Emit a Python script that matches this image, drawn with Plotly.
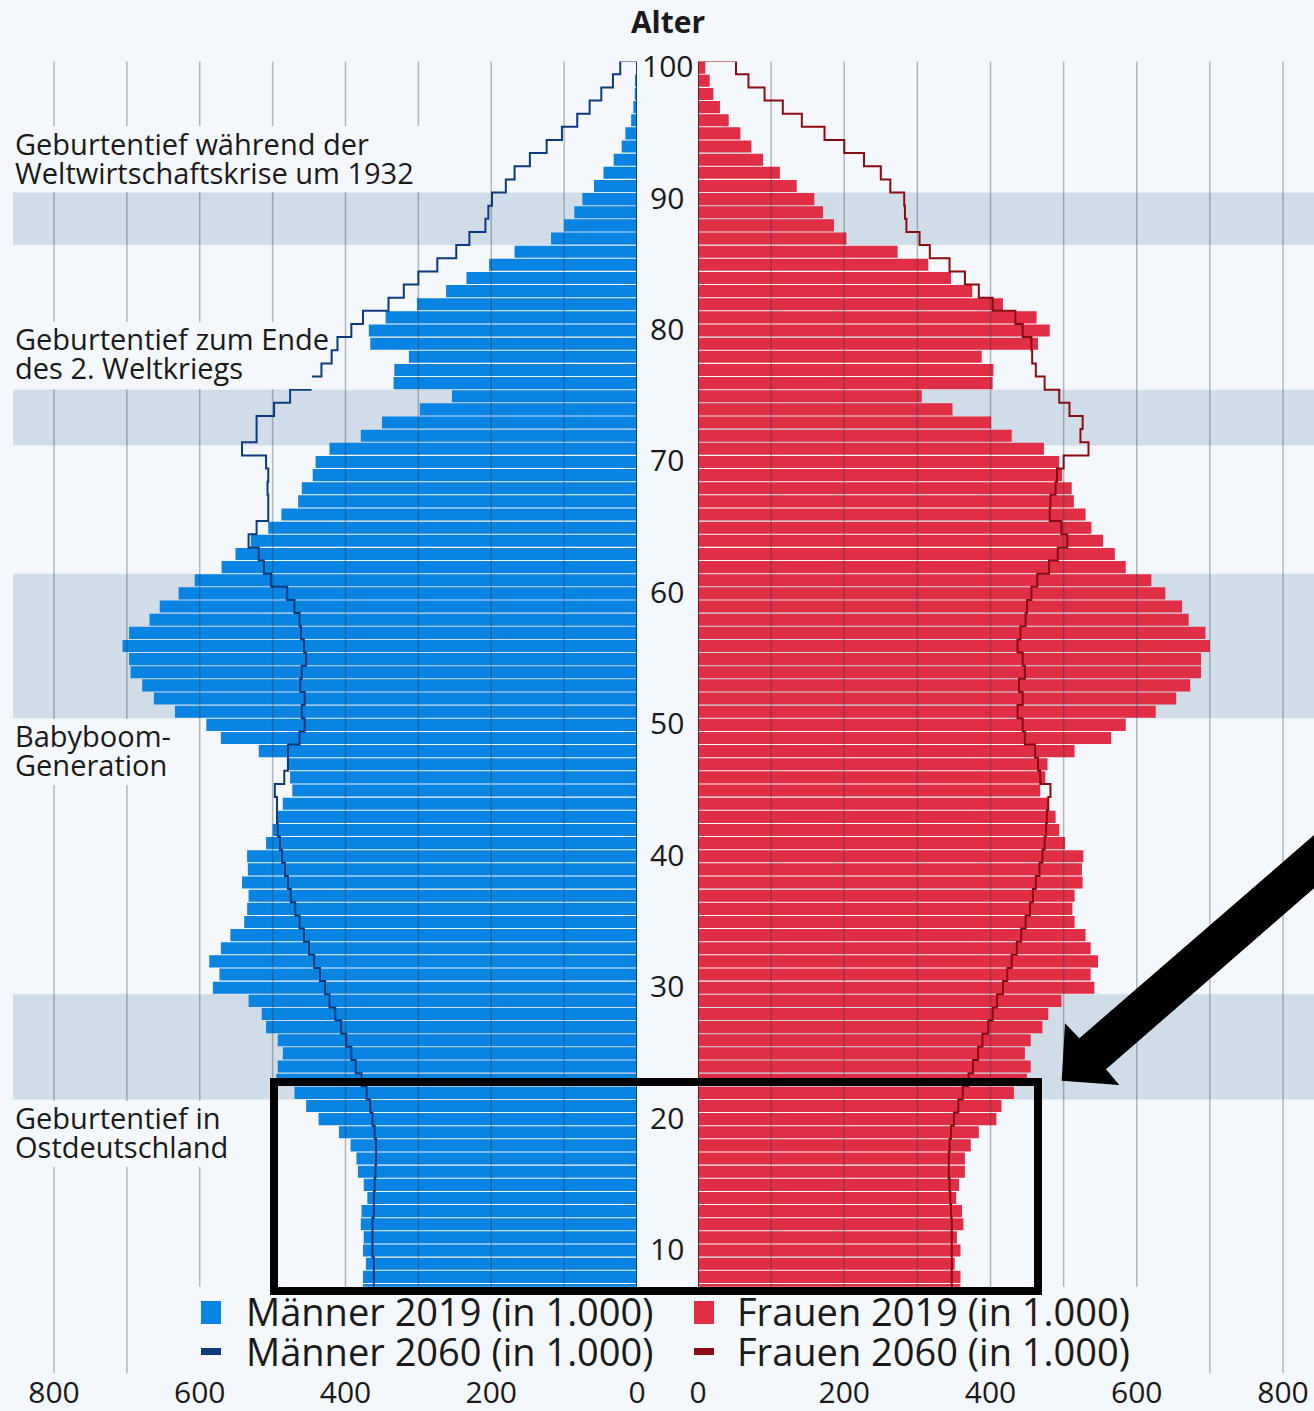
import plotly.graph_objects as go

# ---------------- data (in 1.000) ----------------
ages = list(range(7, 101))

men_2019 = [376, 376, 372, 376, 375, 379, 378, 370, 375, 383,   # 7-16
            385, 393, 409, 437, 454, 470, 495, 493, 486, 493,   # 17-26
            509, 515, 533, 582, 573, 587, 571, 558, 539, 535,   # 27-36
            533, 542, 534, 535, 509, 500, 493, 486, 473, 476,   # 37-46
            479, 519, 571, 591, 634, 663, 679, 695, 697, 706,   # 47-56
            697, 669, 655, 629, 607, 570, 551, 530, 506, 488,   # 57-66
            465, 460, 445, 441, 422, 379, 350, 298, 254, 334,   # 67-76
            333, 313, 366, 368, 345, 302, 262, 234, 203, 168,   # 77-86
            118, 100, 86, 75, 59, 46, 32, 21, 16, 8,            # 87-96
            5, 3, 1.5, 1]                                       # 97-100

women_2019 = [359, 359, 351, 359, 354, 363, 361, 353, 357, 365,
              365, 373, 384, 408, 415, 432, 450, 455, 447, 455,
              471, 479, 497, 542, 537, 547, 537, 530, 515, 512,
              515, 526, 525, 527, 502, 494, 489, 479, 468, 475,
              478, 515, 565, 585, 626, 654, 673, 688, 688, 700,
              694, 671, 662, 639, 620, 585, 570, 554, 538, 530,
              514, 511, 498, 494, 473, 429, 401, 348, 306, 403,
              404, 388, 465, 481, 463, 417, 375, 346, 315, 273,
              203, 186, 171, 159, 135, 112, 89, 73, 58, 42,
              30, 21, 16, 10]

men_2060 = [361, 361, 361, 363, 363, 363, 361, 361, 360, 359,
            358, 358, 360, 363, 366, 371, 378, 386, 392, 399,
            406, 414, 422, 428, 435, 443, 450, 457, 463, 469,
            475, 479, 483, 487, 490, 493, 494, 494, 497, 484,
            479, 479, 463, 456, 460, 456, 462, 460, 454, 457,
            461, 463, 470, 480, 502, 512, 519, 533, 522, 506,
            506, 507, 506, 509, 542, 522, 522, 498, 476, 448,
            433, 419, 411, 392, 376, 341, 320, 300, 274, 248,
            230, 208, 204, 199, 180, 168, 147, 124, 103, 82,
            65, 49, 33, 23]

women_2060 = [347, 347, 347, 347, 347, 347, 346, 345, 344, 343,
              343, 344, 346, 350, 356, 362, 370, 376, 383, 389,
              397, 403, 409, 417, 423, 429, 436, 442, 448, 454,
              458, 462, 467, 471, 474, 476, 477, 479, 482, 468,
              465, 461, 447, 444, 437, 444, 439, 447, 444, 437,
              441, 448, 450, 456, 464, 480, 492, 505, 497, 481,
              482, 489, 491, 500, 534, 523, 526, 508, 494, 474,
              462, 457, 456, 444, 434, 403, 384, 365, 344, 317,
              303, 285, 283, 282, 263, 250, 227, 200, 173, 142,
              116, 91, 69, 52]

age_ticks = [10, 20, 30, 40, 50, 60, 70, 80, 90, 100]
x_ticks = [0, 200, 400, 600, 800]
grid_values = [100, 200, 300, 400, 500, 600, 700, 800]
bands = [(21.5, 29.5), (50.5, 61.5), (71.25, 75.5), (86.5, 90.5)]

notes = [
    ["Geburtentief während der", "Weltwirtschaftskrise um 1932"],
    ["Geburtentief zum Ende", "des 2. Weltkriegs"],
    ["Babyboom-", "Generation"],
    ["Geburtentief in", "Ostdeutschland"],
]
legend_labels = ["Männer 2019 (in 1.000)", "Frauen 2019 (in 1.000)",
                 "Männer 2060 (in 1.000)", "Frauen 2060 (in 1.000)"]

# ---------------- styling ----------------
W, H = 1314, 1411
BG = "#f4f7fb"
BAND = "#d0dde9"
BLUE = "#0a84e3"
RED = "#e02f44"
NAVY = "#0c3a7c"
DARKRED = "#8a0b12"
TXT = "#1a1a1a"
FONT = "Open Sans"
GRID = "rgba(40,55,70,0.33)"


def px(x):
    return x / W


def py(y):
    return 1 - y / H


# pixel calibration of the two value axes
L0, L800 = 637, 54
R0, R800 = 698, 1283
left_scale = (L0 - L800) / 800
right_scale = (R800 - R0) / 800
left_max = (L0 - 13) / left_scale
right_max = (W - R0) / right_scale

PLOT_TOP, PLOT_BOTTOM = 61.5, 1286.7


def outline(values):
    top = ages[-1] + 0.5
    xs = [0, 0, values[-1]] + values[::-1]
    ys = [ages[0] - 0.5, top, top] + ages[::-1]
    return xs, ys


fig = go.Figure()
fig.add_trace(go.Bar(x=men_2019, y=ages, orientation="h", marker=dict(color=BLUE, line=dict(width=0)),
                     name=legend_labels[0], xaxis="x", yaxis="y", showlegend=False, hoverinfo="skip"))
fig.add_trace(go.Bar(x=women_2019, y=ages, orientation="h", marker=dict(color=RED, line=dict(width=0)),
                     name=legend_labels[1], xaxis="x2", yaxis="y", showlegend=False, hoverinfo="skip"))
mx, my = outline(men_2060)
fig.add_trace(go.Scatter(x=mx, y=my, mode="lines", line=dict(color=NAVY, width=2, shape="vhv"),
                         name=legend_labels[2], xaxis="x", yaxis="y", showlegend=False, hoverinfo="skip"))
wx, wy = outline(women_2060)
fig.add_trace(go.Scatter(x=wx, y=wy, mode="lines", line=dict(color=DARKRED, width=2, shape="vhv"),
                         name=legend_labels[3], xaxis="x2", yaxis="y", showlegend=False, hoverinfo="skip"))

shapes = []
# shaded bands
for lo, hi in bands:
    for xr in ("x domain", "x2 domain"):
        shapes.append(dict(type="rect", xref=xr, yref="y", x0=0, x1=1, y0=lo, y1=hi,
                           fillcolor=BAND, line=dict(width=0), layer="below"))
# grid lines drawn above the bars
for v in grid_values:
    for xr in ("x", "x2"):
        shapes.append(dict(type="line", xref=xr, yref="paper", x0=v, x1=v,
                           y0=py(PLOT_BOTTOM), y1=py(PLOT_TOP), line=dict(color=GRID, width=1.5), layer="above"))
        if v >= 700:
            shapes.append(dict(type="line", xref=xr, yref="paper", x0=v, x1=v,
                               y0=py(1373), y1=py(PLOT_BOTTOM), line=dict(color=GRID, width=1.5), layer="above"))

# background patches behind the notes (they hide the grid lines)
note_boxes = [(10, 422, 126, 192), (10, 312, 322, 389), (10, 176, 719, 785), (10, 236, 1101, 1167)]
for x0, x1, y0, y1 in note_boxes:
    shapes.append(dict(type="rect", xref="paper", yref="paper", x0=px(x0), x1=px(x1),
                       y0=py(y1), y1=py(y0), fillcolor=BG, line=dict(width=0), layer="above"))

# black highlight box
shapes.append(dict(type="rect", xref="paper", yref="paper", x0=px(274), x1=px(1038),
                   y0=py(1291), y1=py(1082), line=dict(color="black", width=8), layer="above"))
# black arrow
arrow_pts = [(1061.7, 1080.7), (1065, 1023.3), (1079.3, 1038.3), (1330, 821.2),
             (1330, 874.4), (1106, 1069.3), (1119.3, 1085)]
path = "M " + " L ".join(f"{px(x):.5f},{py(y):.5f}" for x, y in arrow_pts) + " Z"
shapes.append(dict(type="path", xref="paper", yref="paper", path=path,
                   fillcolor="black", line=dict(color="black", width=0), layer="above"))

# manual legend symbols
leg_sym = [
    (201, 221, 1301, 1324, BLUE), (694, 714, 1301, 1324, RED),
    (201, 221, 1348, 1355, NAVY), (694, 714, 1348, 1355, DARKRED),
]
for x0, x1, y0, y1, c in leg_sym:
    shapes.append(dict(type="rect", xref="paper", yref="paper", x0=px(x0), x1=px(x1),
                       y0=py(y1), y1=py(y0), fillcolor=c, line=dict(width=0), layer="above"))

annotations = []
# age labels between the halves
for a in age_ticks:
    annotations.append(dict(x=px(667), xref="paper", y=a, yref="y", text=str(a), showarrow=False,
                            xanchor="center", yanchor="middle", yshift=2,
                            font=dict(family=FONT, size=30, color=TXT)))
# notes on the left
note_y = [(143.5, 172.5), (339, 368), (735.5, 764.5), (1117, 1146)]
for lines, ys in zip(notes, note_y):
    for text, yy in zip(lines, ys):
        annotations.append(dict(x=px(14), xref="paper", y=py(yy), yref="paper", text=text, showarrow=False,
                                xanchor="left", yanchor="middle", borderpad=0,
                                font=dict(family=FONT, size=29, color=TXT)))
# legend texts
leg_txt_pos = [(244, 1310.5), (735, 1310.5), (244, 1350.5), (735, 1350.5)]
for text, (xx, yy) in zip(legend_labels, leg_txt_pos):
    annotations.append(dict(x=px(xx), xref="paper", y=py(yy), yref="paper", text=text, showarrow=False,
                            xanchor="left", yanchor="middle", font=dict(family=FONT, size=38, color=TXT)))

axis_common = dict(showgrid=False, zeroline=False, showline=False, ticks="",
                   tickvals=x_ticks, ticktext=[str(v) for v in x_ticks],
                   tickfont=dict(family=FONT, size=30, color=TXT), anchor="free", position=py(1372),
                   fixedrange=True, automargin=False)

fig.update_layout(
    width=W, height=H,
    margin=dict(l=0, r=0, t=0, b=0, pad=0, autoexpand=False),
    paper_bgcolor=BG, plot_bgcolor=BG,
    bargap=0.08,
    barmode="overlay",
    font=dict(family=FONT, color=TXT),
    title=dict(text="<b>Alter</b>", x=px(668), y=py(22), xanchor="center", yanchor="middle",
               font=dict(family=FONT, size=30, color=TXT)),
    xaxis=dict(domain=[px(13), px(L0)], range=[left_max, 0], **axis_common),
    xaxis2=dict(domain=[px(R0), 1], range=[0, right_max], **axis_common),
    yaxis=dict(domain=[py(PLOT_BOTTOM), py(PLOT_TOP)], range=[7.25, 100.47], showgrid=False,
               zeroline=False, showticklabels=False, ticks="", fixedrange=True, automargin=False),
    shapes=shapes,
    annotations=annotations,
    showlegend=False,
)

fig.write_html("out.html", config={"displayModeBar": False},
               post_script="document.body.style.margin='0';document.body.style.overflow='hidden';")
